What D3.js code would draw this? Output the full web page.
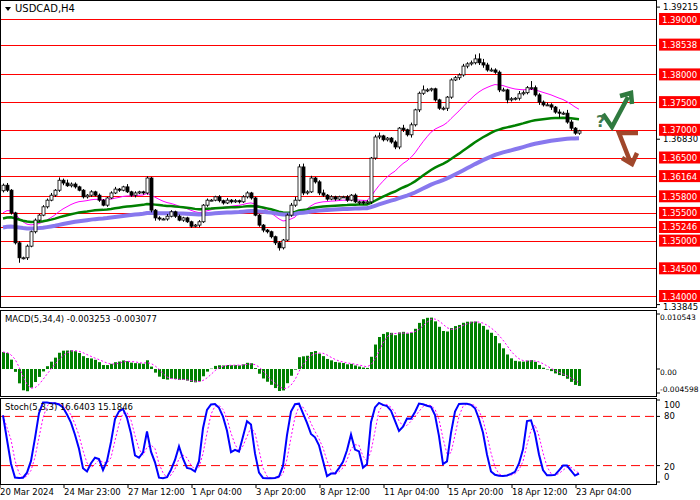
<!DOCTYPE html>
<html><head><meta charset="utf-8">
<script src="https://cdn.jsdelivr.net/npm/d3@7"></script>
<style>body{margin:0;background:#fff}text{font-family:"DejaVu Sans",sans-serif;font-size:8.5px}</style>
</head><body><div id="chart"></div>
<script>
const closes = [1.3600,1.3591,1.3550,1.3496,1.3469,1.3469,1.3490,1.3516,1.3537,1.3546,1.3561,1.3573,1.3582,1.3591,1.3609,
	1.3604,1.3599,1.3602,1.3597,1.3591,1.3579,1.3582,1.3588,1.3582,1.3573,1.3564,1.3577,1.3586,1.3593,1.3591,1.3597,1.3588,
	1.3582,1.3586,1.3588,1.3586,1.3613,1.3555,1.3541,1.3539,1.3539,1.3544,1.3552,1.3544,1.3537,1.3541,1.3534,1.3526,1.3528,
	1.3534,1.3564,1.3573,1.3573,1.3579,1.3572,1.3568,1.3573,1.3570,1.3572,1.3570,1.3579,1.3586,1.3577,1.3546,1.3528,1.3519,
	1.3516,1.3507,1.3496,1.3487,1.3501,1.3546,1.3564,1.3573,1.3633,1.3586,1.3588,1.3613,1.3606,1.3586,1.3582,1.3575,1.3579,
	1.3575,1.3579,1.3579,1.3573,1.3582,1.3570,1.3570,1.3568,1.3570,1.3649,1.3687,1.3689,1.3682,1.3685,1.3678,1.3669,1.3703,
	1.3700,1.3691,1.3709,1.3736,1.3766,1.3772,1.3772,1.3774,1.3754,1.3739,1.3739,1.3759,1.3790,1.3794,1.3799,1.3815,1.3819,
	1.3821,1.3828,1.3821,1.3817,1.3808,1.3808,1.3804,1.3772,1.3772,1.3754,1.3756,1.3757,1.3765,1.3767,1.3776,1.3776,1.3763,
	1.3750,1.3745,1.3745,1.3741,1.3732,1.3730,1.3730,1.3714,1.3703,1.3694,1.3698];
// wick extensions in pips beyond the body
const hiPips = [3,4,2,2,3,2,3,2,3,2,3,3,4,2,5,3,6,3,3,2,2,2,3,2,3,2,2,3,4,2,2,5,2,3,2,2,3,2,2,3,2,4,3,2,3,2,2,2,2,
	3,2,3,2,2,3,2,4,2,3,2,3,3,2,2,2,2,2,2,2,3,2,3,4,6,5,6,3,4,2,3,6,2,3,2,2,2,3,2,3,2,2,3,2,4,6,2,2,2,3,2,6,2,4,2,3,
	8,3,2,2,2,3,2,3,3,3,4,3,4,8,10,7,4,4,3,3,4,2,3,2,5,4,3,12,4,3,3,4,3,2,5,3,6,4,2,2,3,2,3];
const loPips = [3,3,3,3,9,3,4,2,3,3,2,3,2,3,3,4,2,3,3,2,3,3,3,2,3,2,3,2,2,3,2,2,3,4,2,3,3,4,5,3,2,3,2,3,2,3,2,3,2,
	4,2,3,2,2,3,3,2,3,2,3,2,3,3,2,3,4,3,3,4,5,3,2,3,3,2,4,3,2,3,4,3,3,2,3,2,2,3,2,2,5,3,2,4,3,4,3,3,3,4,4,4,3,5,3,4,
	3,4,3,3,3,4,5,3,2,4,3,4,3,3,4,5,3,3,3,4,3,6,3,3,4,3,3,4,3,5,3,2,5,3,8,3,3,4,3,3,2];
const levels = [1.3900,1.38538,1.3800,1.3750,1.3700,1.3650,1.36164,1.3580,1.3550,1.35246,1.3500,1.3450,1.3400];
const greyTicks = [1.39215,1.36830,1.33845];
const timeLabels = ["20 Mar 2024","24 Mar 23:00","27 Mar 12:00","1 Apr 04:00","3 Apr 20:00","8 Apr 12:00",
	"11 Apr 04:00","15 Apr 20:00","18 Apr 12:00","23 Apr 04:00"];
const maSpecs = [{ period: 20, seed: 1.3545, color: "#ff00ff", width: 1 },
	{ period: 60, seed: 1.3538, color: "#008000", width: 2.5 },
	{ period: 100, seed: 1.3522, color: "#8878ee", width: 4 }];

const W = 700, H = 500, plotR = 656;
const svg = d3.select("#chart").append("svg").attr("width", W).attr("height", H);

const bars = closes.map((c, i) => {
	const o = i === 0 ? 1.3590 : closes[i - 1];
	return { i, o, c, h: Math.max(o, c) + (hiPips[i] ?? 2) / 10000, l: Math.min(o, c) - (loPips[i] ?? 2) / 10000 };
});

const x = d3.scaleLinear().domain([0, 144]).range([3, 579]);
const y = d3.scaleLinear().domain([1.33845, 1.39215]).range([304.6, 7.1]);

const panels = [[0, 0, plotR, 307], [0, 310, plotR, 86], [0, 398, plotR, 86]];
panels.forEach(p => svg.append("rect").attr("x", p[0] + 0.5).attr("y", p[1] + 0.5).attr("width", p[2])
	.attr("height", p[3]).attr("fill", "none").attr("stroke", "#000"));

const main = svg.append("g");
main.selectAll(".lvl").data(levels).join("line").attr("x1", 1).attr("x2", plotR)
	.attr("y1", d => Math.round(y(d)) + 0.5).attr("y2", d => Math.round(y(d)) + 0.5).attr("stroke", "#ff0000");

maSpecs.forEach(s => {
	const k = 2 / (s.period + 1);
	let e = s.seed;
	const vals = closes.map(c => (e = e + k * (c - e)));
	main.append("path").datum(vals).attr("fill", "none").attr("stroke", s.color).attr("stroke-width", s.width)
		.attr("d", d3.line().x((d, i) => x(i)).y(d => y(d)));
});

const cg = main.selectAll(".c").data(bars).join("g");
cg.append("line").attr("x1", d => Math.round(x(d.i)) + 0.5).attr("x2", d => Math.round(x(d.i)) + 0.5)
	.attr("y1", d => y(d.h)).attr("y2", d => y(d.l)).attr("stroke", "#000");
cg.append("rect").attr("x", d => Math.round(x(d.i)) - 1).attr("width", 3)
	.attr("y", d => y(Math.max(d.o, d.c))).attr("height", d => Math.max(1, Math.abs(y(d.o) - y(d.c))))
	.attr("fill", d => d.c >= d.o ? "#fff" : "#000").attr("stroke", "#000").attr("stroke-width", 0.8);

const ax = svg.append("g");
greyTicks.forEach(v => {
	ax.append("line").attr("x1", plotR).attr("x2", plotR + 4).attr("y1", y(v)).attr("y2", y(v)).attr("stroke", "#000");
	ax.append("text").attr("x", plotR + 7).attr("y", y(v) + (v < 1.339 ? 5 : 3)).text(v.toFixed(5));
});
levels.forEach(v => {
	ax.append("rect").attr("x", plotR + 3).attr("y", y(v) - 6).attr("width", 43).attr("height", 12).attr("fill", "#ff0000");
	ax.append("text").attr("x", plotR + 6).attr("y", y(v) + 3.5).attr("fill", "#fff").text(v.toFixed(5));
});
svg.append("path").attr("d", "M5,7 L11,7 L8,11 Z").attr("fill", "#000");
svg.append("text").attr("x", 15).attr("y", 12).style("font-size", "10px").text("USDCAD,H4");

svg.append("path").attr("d", "M603,114 L612,127 L628,97 M620,96 L631,93 L632,104").attr("fill", "none")
	.attr("stroke", "#2f7a3f").attr("stroke-width", 4.5);
svg.append("text").attr("x", 596).attr("y", 127).attr("fill", "#3f7a4f").style("font-size", "16px").style("font-weight", "bold").text("?");
svg.append("path").attr("d", "M638,133 L619,133 L630,161 M622,158 L632,164 L637,153").attr("fill", "none")
	.attr("stroke", "#a0472b").attr("stroke-width", 4.5);

// MACD(5,34,4)
const ema = (arr, n, seed) => { const k = 2 / (n + 1); let e = seed; return arr.map(v => (e = e + k * (v - e))); };
const e5 = ema(closes, 5, 1.3585), e34 = ema(closes, 34, 1.3555);
const macd = closes.map((c, i) => e5[i] - e34[i]);
const sig = macd.map((v, i) => d3.mean(macd.slice(Math.max(0, i - 3), i + 1)));
const ym = d3.scaleLinear().domain([-0.004598, 0.010543]).range([393, 314]);
svg.append("g").selectAll("rect").data(macd).join("rect").attr("x", (d, i) => Math.round(x(i)) - 1).attr("width", 3)
	.attr("y", d => Math.min(ym(d), ym(0))).attr("height", d => Math.abs(ym(d) - ym(0))).attr("fill", "#008000");
svg.append("path").datum(sig).attr("fill", "none").attr("stroke", "#ff00ff").attr("stroke-dasharray", "2,2")
	.attr("d", d3.line().x((d, i) => x(i)).y(d => ym(d)));
[[0.010543, 317], [0, 372], [-0.004598, 389]].forEach(t => {
	svg.append("line").attr("x1", plotR).attr("x2", plotR + 4).attr("y1", ym(t[0])).attr("y2", ym(t[0])).attr("stroke", "#000");
	svg.append("text").attr("x", plotR + 4).attr("y", t[1] + 3).style("font-size", "7.5px").text(t[0] === 0 ? "0.00" : t[0].toFixed(6));
});
svg.append("text").attr("x", 5).attr("y", 322).text("MACD(5,34,4) -0.003253 -0.003077");

// Stoch(5,3,3)
const raw = bars.map((b, i) => {
	const w = bars.slice(Math.max(0, i - 4), i + 1);
	return { c: b.c, h: d3.max(w, d => d.h), l: d3.min(w, d => d.l) };
});
const kLine = raw.map((r, i) => {
	const w = raw.slice(Math.max(0, i - 2), i + 1);
	return 100 * d3.sum(w, d => d.c - d.l) / d3.sum(w, d => d.h - d.l);
});
const dLine = kLine.map((v, i) => d3.mean(kLine.slice(Math.max(0, i - 2), i + 1)));
const ys = d3.scaleLinear().domain([0, 100]).range([482, 400]);
[80, 20].forEach(v => svg.append("line").attr("x1", 1).attr("x2", plotR).attr("y1", ys(v)).attr("y2", ys(v))
	.attr("stroke", "#ff0000").attr("stroke-dasharray", "9,5"));
svg.append("path").datum(dLine).attr("fill", "none").attr("stroke", "#ff00ff").attr("stroke-dasharray", "2,2")
	.attr("d", d3.line().x((d, i) => x(i)).y(d => ys(d)));
svg.append("path").datum(kLine).attr("fill", "none").attr("stroke", "#0000ff").attr("stroke-width", 2)
	.attr("d", d3.line().x((d, i) => x(i)).y(d => ys(d)));
[[100, 405], [80, 416], [20, 467], [0, 477]].forEach(t => {
	svg.append("line").attr("x1", plotR).attr("x2", plotR + 4).attr("y1", ys(t[0])).attr("y2", ys(t[0])).attr("stroke", "#000");
	svg.append("text").attr("x", plotR + 8).attr("y", t[1] + 3).text(t[0]);
});
svg.append("text").attr("x", 5).attr("y", 410).text("Stoch(5,3,3) 16.6403 15.1846");

const tIdx = timeLabels.map((t, j) => j * 16);
svg.append("g").selectAll("g").data(tIdx).join("g").each(function (d, j) {
	const g = d3.select(this);
	g.append("line").attr("x1", x(d) - 3).attr("x2", x(d) - 3).attr("y1", 484).attr("y2", 488).attr("stroke", "#000");
	g.append("text").attr("x", x(d) - 3).attr("y", 495).text(timeLabels[j]);
});
</script></body></html>
